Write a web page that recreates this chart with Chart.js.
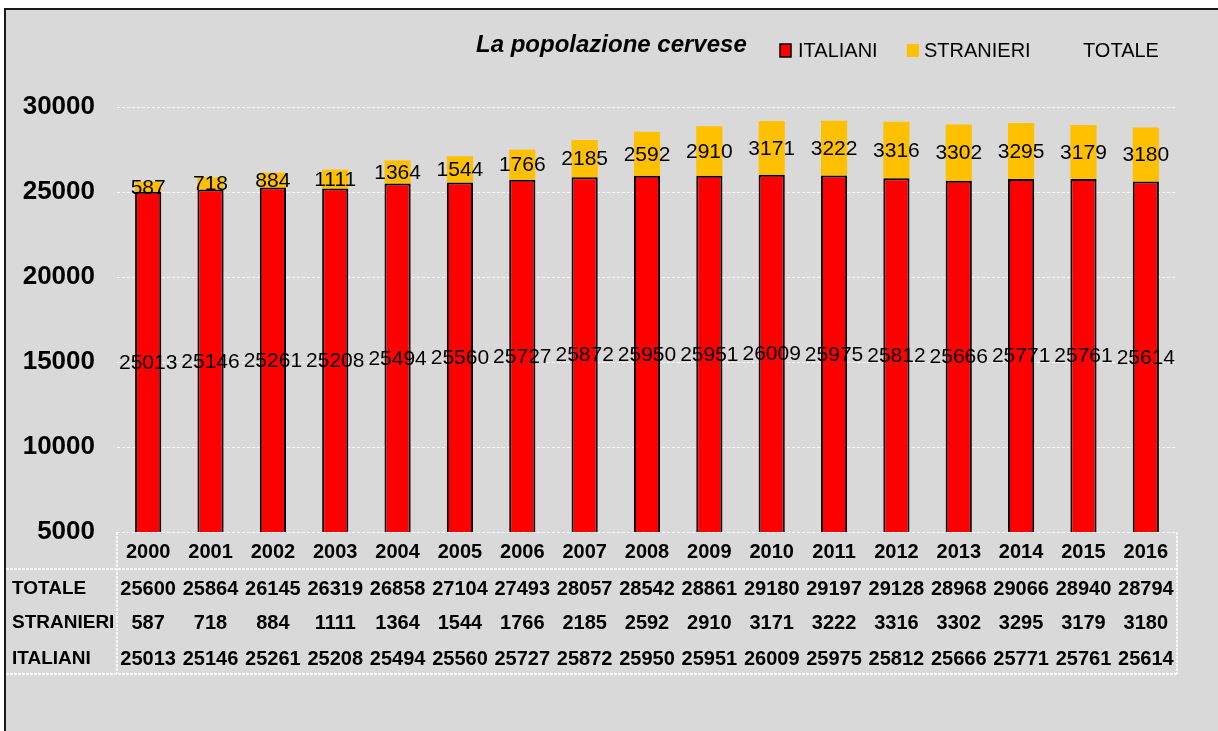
<!DOCTYPE html>
<html>
<head>
<meta charset="utf-8">
<script src="https://cdn.jsdelivr.net/npm/chart.js@4.4.1/dist/chart.umd.min.js"></script>
<style>
    body { margin: 0; background: #ffffff; }
    canvas { display: block; }
</style>
</head>
<body>
<canvas id="popChart" width="1218" height="731"></canvas>
<script>
const years = ["2000", "2001", "2002", "2003", "2004", "2005", "2006", "2007", "2008",
    "2009", "2010", "2011", "2012", "2013", "2014", "2015", "2016"];

const italiani = [25013, 25146, 25261, 25208, 25494, 25560, 25727, 25872, 25950,
    25951, 26009, 25975, 25812, 25666, 25771, 25761, 25614];

const stranieri = [587, 718, 884, 1111, 1364, 1544, 1766, 2185, 2592,
    2910, 3171, 3222, 3316, 3302, 3295, 3179, 3180];

const totale = [25600, 25864, 26145, 26319, 26858, 27104, 27493, 28057, 28542,
    28861, 29180, 29197, 29128, 28968, 29066, 28940, 28794];

const yMin = 5000;
const yMax = 30000;
const yStep = 5000;

const titleText = "La popolazione cervese";
const FONT = "'Liberation Sans', Arial, sans-serif";

// sfondo grigio con bordo nero in alto e a sinistra
const backgroundPlugin = {
    id: "background",
    beforeDraw(chart) {
        const ctx = chart.ctx;
        ctx.save();
        ctx.fillStyle = "#ffffff";
        ctx.fillRect(0, 0, chart.width, chart.height);
        ctx.fillStyle = "#d9d9d9";
        ctx.fillRect(5, 9, chart.width - 5, chart.height - 9);
        ctx.strokeStyle = "#1a1a1a";
        ctx.lineWidth = 2;
        ctx.beginPath();
        ctx.moveTo(5, chart.height);
        ctx.lineTo(5, 9);
        ctx.lineTo(chart.width, 9);
        ctx.stroke();
        ctx.restore();
    }
};

// titolo e legenda sulla stessa riga
const headerPlugin = {
    id: "header",
    afterDraw(chart) {
        const ctx = chart.ctx;
        const ds = chart.data.datasets;
        ctx.save();
        ctx.fillStyle = "#000000";
        ctx.textBaseline = "alphabetic";
        ctx.textAlign = "left";
        ctx.font = "italic bold 24px " + FONT;
        ctx.fillText(titleText, 476, 52);

        ctx.font = "20px " + FONT;
        // ITALIANI
        ctx.fillStyle = ds[0].backgroundColor;
        ctx.fillRect(780, 44, 11, 13);
        ctx.strokeStyle = "#000000";
        ctx.lineWidth = 1.5;
        ctx.strokeRect(780, 44, 11, 13);
        ctx.fillStyle = "#000000";
        ctx.fillText(ds[0].label, 798, 57);
        // STRANIERI
        ctx.fillStyle = ds[1].backgroundColor;
        ctx.fillRect(907, 44, 12, 13);
        ctx.fillStyle = "#000000";
        ctx.fillText(ds[1].label, 924, 57);
        // TOTALE
        ctx.fillText(ds[2].label, 1083, 57);
        ctx.restore();
    }
};

// etichette dei valori al centro della parte visibile della barra
const barLabelsPlugin = {
    id: "barLabels",
    afterDatasetsDraw(chart) {
        const ctx = chart.ctx;
        const area = chart.chartArea;
        ctx.save();
        ctx.font = "21px " + FONT;
        ctx.fillStyle = "#000000";
        ctx.textAlign = "center";
        ctx.textBaseline = "middle";
        [0, 1].forEach(index => {
            const meta = chart.getDatasetMeta(index);
            meta.data.forEach((bar, i) => {
                const p = bar.getProps(["x", "y", "base"], true);
                const top = Math.max(Math.min(p.y, p.base), area.top);
                const bottom = Math.min(Math.max(p.y, p.base), area.bottom);
                const value = chart.data.datasets[index].data[i];
                ctx.fillText(String(value), p.x, (top + bottom) / 2 + 1);
            });
        });
        ctx.restore();
    }
};

// tabella dati sotto l'asse
const tablePlugin = {
    id: "dataTable",
    afterDraw(chart) {
        const ctx = chart.ctx;
        const area = chart.chartArea;
        const xScale = chart.scales.x;
        const ds = chart.data.datasets;

        const rows = [
            { label: ds[2].label, data: ds[2].data, y: 589 },
            { label: ds[1].label, data: ds[1].data, y: 623 },
            { label: ds[0].label, data: ds[0].data, y: 659 }
        ];

        ctx.save();
        ctx.strokeStyle = "#ffffff";
        ctx.lineWidth = 1.5;
        ctx.setLineDash([3, 1]);
        ctx.beginPath();
        ctx.moveTo(6, 569);
        ctx.lineTo(area.right, 569);
        ctx.moveTo(6, 674);
        ctx.lineTo(area.right, 674);
        ctx.moveTo(area.left, area.bottom);
        ctx.lineTo(area.left, 674);
        ctx.moveTo(area.right, area.bottom);
        ctx.lineTo(area.right, 674);
        ctx.stroke();
        ctx.setLineDash([]);

        ctx.fillStyle = "#000000";
        ctx.textBaseline = "middle";
        rows.forEach(row => {
            ctx.font = "bold 19px " + FONT;
            ctx.textAlign = "left";
            ctx.fillText(row.label, 12, row.y);
            ctx.font = "bold 20px " + FONT;
            ctx.textAlign = "center";
            row.data.forEach((value, i) => {
                ctx.fillText(String(value), xScale.getPixelForValue(i), row.y);
            });
        });
        ctx.restore();
    }
};

const ctx = document.getElementById("popChart");

new Chart(ctx, {
    type: "bar",
    data: {
        labels: years,
        datasets: [
            {
                label: "ITALIANI",
                data: italiani,
                backgroundColor: "#ff0000",
                borderColor: "#000000",
                borderWidth: 2,
                borderSkipped: false,
                barPercentage: 0.42,
                categoryPercentage: 1,
                stack: "pop"
            },
            {
                label: "STRANIERI",
                data: stranieri,
                backgroundColor: "#ffc000",
                borderWidth: 0,
                barPercentage: 0.42,
                categoryPercentage: 1,
                stack: "pop"
            },
            {
                type: "line",
                label: "TOTALE",
                data: totale,
                showLine: false,
                pointRadius: 0,
                borderColor: "rgba(0,0,0,0)",
                backgroundColor: "rgba(0,0,0,0)",
                stack: "tot"
            }
        ]
    },
    options: {
        responsive: false,
        animation: false,
        devicePixelRatio: 1,
        layout: {
            padding: { top: 107, right: 41, bottom: 0, left: 0 }
        },
        plugins: {
            legend: { display: false },
            title: { display: false },
            tooltip: { enabled: false }
        },
        scales: {
            x: {
                stacked: true,
                grid: { display: false, drawTicks: false },
                border: { display: false },
                ticks: {
                    color: "#000000",
                    padding: 8,
                    font: { family: FONT, size: 20, weight: "bold" }
                },
                afterFit(scale) {
                    scale.height = 199;
                }
            },
            y: {
                stacked: true,
                min: yMin,
                max: yMax,
                border: { display: false, dash: [3, 2] },
                grid: {
                    color: "#ffffff",
                    lineWidth: 1,
                    drawTicks: false
                },
                ticks: {
                    stepSize: yStep,
                    color: "#000000",
                    padding: 22,
                    font: { family: FONT, size: 26, weight: "bold" },
                    callback: function(value) {
                        return String(value);
                    }
                },
                afterFit(scale) {
                    scale.width = 117;
                }
            }
        }
    },
    plugins: [backgroundPlugin, barLabelsPlugin, tablePlugin, headerPlugin]
});
</script>
</body>
</html>
